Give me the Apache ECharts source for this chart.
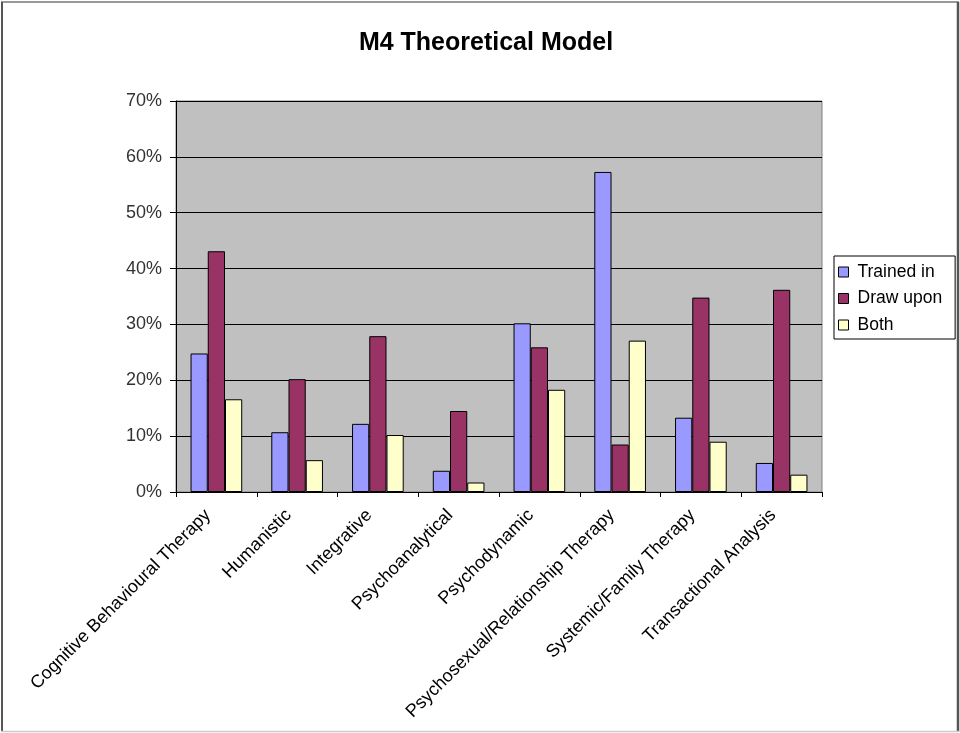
<!DOCTYPE html>
<html>
<head>
<meta charset="utf-8">
<script src="https://cdn.jsdelivr.net/npm/echarts@6/dist/echarts.min.js"></script>
<style>
  html, body { margin: 0; padding: 0; background: #fff; }
  #chart { width: 960px; height: 733px; }
</style>
</head>
<body>
<div id="chart"></div>
<script>
// Theoretical models (categories along the x axis)
const categories = [
  'Cognitive Behavioural Therapy',
  'Humanistic',
  'Integrative',
  'Psychoanalytical',
  'Psychodynamic',
  'Psychosexual/Relationship Therapy',
  'Systemic/Family Therapy',
  'Transactional Analysis'
];

// Percentage of respondents per model
const trainedIn = [24.8, 10.7, 12.2, 3.8, 30.2, 57.3, 13.3, 5.2];
const drawUpon  = [43.1, 20.2, 27.9, 14.5, 25.9, 8.5, 34.8, 36.2];
const both      = [16.6, 5.7, 10.2, 1.7, 18.3, 27.1, 9.0, 3.1];

const seriesNames = ['Trained in', 'Draw upon', 'Both'];
const seriesColors = ['#9999FF', '#993366', '#FFFFCC'];

const chart = echarts.init(document.getElementById('chart'), null, { renderer: 'canvas' });

const font = 'Arial, "Liberation Sans", sans-serif';

function barSeries(name, data, color) {
  return {
    name: name,
    type: 'bar',
    data: data,
    barGap: '0%',
    barCategoryGap: '36%',
    itemStyle: { color: color, borderColor: '#000', borderWidth: 1 },
    emphasis: { disabled: true }
  };
}

function frameLine(x1, y1, x2, y2, color, w) {
  return {
    type: 'line',
    shape: { x1: x1, y1: y1, x2: x2, y2: y2 },
    style: { stroke: color, lineWidth: w },
    silent: true
  };
}

chart.setOption({
  animation: false,
  backgroundColor: '#fff',
  title: {
    text: 'M4 Theoretical Model',
    left: 481,
    top: 26,
    textAlign: 'center',
    textStyle: { fontFamily: font, fontSize: 25, fontWeight: 'bold', color: '#000' }
  },
  legend: {
    orient: 'vertical',
    left: 834,
    top: 256,
    padding: [7, 13, 5, 4],
    itemGap: 8.5,
    itemWidth: 10,
    itemHeight: 10,
    icon: 'rect',
    borderColor: '#000',
    borderWidth: 1,
    backgroundColor: '#fff',
    itemStyle: { borderColor: '#000', borderWidth: 1 },
    textStyle: { fontFamily: font, fontSize: 17.5, color: '#000', padding: [0, 0, 0, 4] },
    data: seriesNames
  },
  grid: {
    left: 176,
    top: 101,
    width: 646,
    height: 391,
    show: true,
    backgroundColor: '#C0C0C0',
    borderColor: '#808080',
    borderWidth: 1
  },
  xAxis: {
    type: 'category',
    data: categories,
    axisLine: { lineStyle: { color: '#000', width: 1 } },
    axisTick: { show: true, length: 5, lineStyle: { color: '#000' } },
    axisLabel: {
      rotate: 45,
      interval: 0,
      margin: 12,
      padding: [0, 12, 0, 0],
      fontFamily: font,
      fontSize: 18,
      color: '#000'
    },
    splitLine: { show: false }
  },
  yAxis: {
    type: 'value',
    min: 0,
    max: 70,
    interval: 10,
    axisLine: { show: true, lineStyle: { color: '#000', width: 1 } },
    axisTick: { show: true, length: 6, lineStyle: { color: '#000' } },
    axisLabel: {
      formatter: '{value}%',
      margin: 14,
      fontFamily: font,
      fontSize: 18,
      color: '#333'
    },
    splitLine: { show: true, lineStyle: { color: '#000', width: 1 } }
  },
  series: [
    barSeries(seriesNames[0], trainedIn, seriesColors[0]),
    barSeries(seriesNames[1], drawUpon, seriesColors[1]),
    barSeries(seriesNames[2], both, seriesColors[2])
  ],
  // page frame around the whole chart
  graphic: [
    frameLine(1, 2, 959, 2, '#777', 1.5),
    frameLine(2, 2, 2, 732, '#555', 2),
    frameLine(958, 2, 958, 732, '#555', 2.5),
    frameLine(1, 731.5, 959, 731.5, '#ccc', 1.5)
  ]
});
</script>
</body>
</html>
